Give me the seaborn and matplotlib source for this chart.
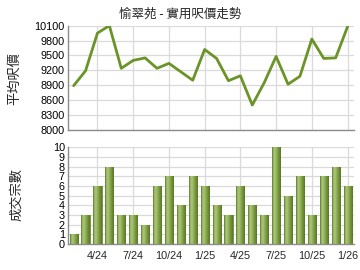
import matplotlib
matplotlib.use("Agg")
import matplotlib.pyplot as plt
import seaborn as sns
import numpy as np
import pandas as pd
from matplotlib.colors import LinearSegmentedColormap

months = ["2/24","3/24","4/24","5/24","6/24","7/24","8/24","9/24","10/24","11/24","12/24",
          "1/25","2/25","3/25","4/25","5/25","6/25","7/25","8/25","9/25","10/25","11/25","12/25","1/26"]
price = [8890, 9190, 9950, 10100, 9240, 9400, 9450, 9240, 9340, 9170, 9000, 9620,
         9440, 8990, 9090, 8500, 8950, 9480, 8920, 9080, 9830, 9440, 9450, 10080]
deals = [1, 3, 6, 8, 3, 3, 2, 6, 7, 4, 7, 6, 4, 3, 6, 4, 3, 10, 5, 7, 3, 7, 8, 6]
tick_labels = ["4/24", "7/24", "10/24", "1/25", "4/25", "7/25", "10/25", "1/26"]
price_ticks = [8000, 8300, 8600, 8900, 9200, 9500, 9800, 10100]
deal_ticks = list(range(0, 11))

df = pd.DataFrame({"idx": np.arange(len(months)), "month": months, "price": price, "deals": deals})
tick_pos = [months.index(t) for t in tick_labels]

sns.set_theme(style="white")
plt.rcParams['font.family'] = ['Liberation Sans', 'Noto Sans CJK TC', 'DejaVu Sans']

fig = plt.figure(figsize=(3.6, 2.7), dpi=100)
ax1 = fig.add_axes([0.188, 0.519, 0.794, 0.386])
ax2 = fig.add_axes([0.188, 0.096, 0.794, 0.358])

grid_c = "#dadada"
spine_c = "#8c8c8c"
for ax in (ax1, ax2):
    ax.set_xlim(-0.5, 23.5)
    for s in ["top", "right"]:
        ax.spines[s].set_visible(False)
    for s in ["left", "bottom"]:
        ax.spines[s].set_color(spine_c)
        ax.spines[s].set_linewidth(1.0)
    ax.set_xticks(tick_pos)
    ax.grid(True, color=grid_c, linewidth=0.9)
    ax.set_axisbelow(True)
    ax.tick_params(axis="y", length=0, labelsize=7.8, pad=2, colors="black")
    ax.set_facecolor("white")

# top line chart
sns.lineplot(data=df, x="idx", y="price", ax=ax1, color="#6b9428", linewidth=2.0)
ax1.set_ylim(8000, 10100)
ax1.set_yticks(price_ticks)
ax1.set_xticklabels([])
ax1.tick_params(axis="x", length=0)
ax1.set_xlabel("")
ax1.set_ylabel("")
ax1.set_xlim(-0.5, 23.5)

# bottom bar chart
sns.barplot(data=df, x="idx", y="deals", ax=ax2, color="#8fb05a", width=0.68,
            saturation=1, native_scale=True)
ax2.set_xlim(-0.5, 23.5)
ax2.set_ylim(0, 10)
ax2.set_yticks(deal_ticks)
ax2.set_xticks(tick_pos)
ax2.set_xticklabels(tick_labels)
ax2.tick_params(axis="x", length=3, width=1, color=spine_c, labelsize=7.8, pad=2)
ax2.set_xlabel("")
ax2.set_ylabel("")

cmap = LinearSegmentedColormap.from_list("g", ["#587a28", "#a9c47a", "#a2be6e", "#86a54a", "#6d8e33", "#56762a"])
grad = np.linspace(0, 1, 64).reshape(1, -1)
for p in ax2.patches:
    x0, y0 = p.get_x(), p.get_y()
    w, h = p.get_width(), p.get_height()
    if h <= 0:
        continue
    im = ax2.imshow(grad, cmap=cmap, aspect="auto", extent=[x0, x0 + w, y0, y0 + h],
                    zorder=p.get_zorder() + 0.1, interpolation="bilinear")
    im.set_clip_path(p)
    p.set_edgecolor("#5a7a2a")
    p.set_linewidth(0.5)
ax2.set_xlim(-0.5, 23.5)
ax2.set_ylim(0, 10)

fig.text(0.5, 0.948, "愉翠苑 - 實用呎價走勢", ha="center", va="center", fontsize=9,
         family=["Noto Sans CJK TC", "DejaVu Sans"])
fig.text(0.04, 0.71, "平均呎價", rotation=90, ha="center", va="center", fontsize=9.5,
         family=["Noto Sans CJK TC", "DejaVu Sans"])
fig.text(0.045, 0.28, "成交宗數", rotation=90, ha="center", va="center", fontsize=9.5,
         family=["Noto Sans CJK TC", "DejaVu Sans"])

fig.savefig("out.png", dpi=100)
